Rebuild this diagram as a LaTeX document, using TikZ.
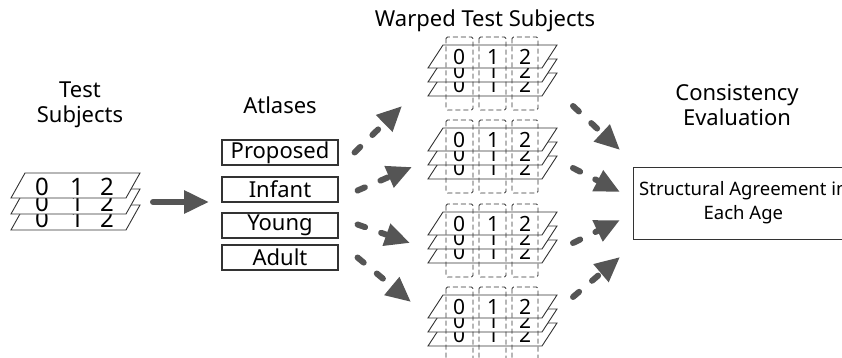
\documentclass[tikz,border=0pt]{standalone}
\usepackage{fontspec}
\setmainfont{Noto Sans}
\usetikzlibrary{arrows.meta}
\definecolor{flowgray}{HTML}{555555}
\definecolor{edgegray}{HTML}{333333}
\begin{document}
\begin{tikzpicture}[x=1pt,y=-1pt,
    title/.style={font=\fontsize{22}{25}\selectfont, align=center, inner sep=0pt},
    atlas/.style={draw=edgegray, line width=1.1pt, minimum width=116pt, minimum height=25pt, inner sep=0pt, font=\fontsize{22}{24}\selectfont},
    plane/.style={draw=edgegray, line width=0.9pt, fill=white},
    digit/.style={inner sep=0pt, font=\fontsize{24}{24}\selectfont},
    wdigit/.style={inner sep=0pt, font=\fontsize{21}{21}\selectfont},
    warpbox/.style={draw=edgegray, dash pattern=on 5pt off 3pt, line width=0.8pt, rounded corners=1.5pt},
    flow/.style={draw=flowgray, line width=6pt, line cap=round, dash pattern=on 8pt off 17pt, -{Triangle[length=25pt,width=22pt]}},
    solidflow/.style={draw=flowgray, line width=6pt, line cap=round, -{Triangle[length=25pt,width=22pt]}},
  ]
  \useasboundingbox (0,0) rectangle (842,358);
  \clip (0,0) rectangle (842,358);
  % headings
  \node[title] (tsubj) at (80,105) {Test\\Subjects};
  \node[title] (atl) at (280,105) {Atlases};
  \node[title] (wts) at (485,21) {Warped Test Subjects};
  \node[title] (cev) at (737,105) {Consistency\\Evaluation};
  % test subjects
  \foreach \k in {2,1,0} {
    \draw[plane] (25,173+16*\k) -- (140,173+16*\k) -- (126,198+16*\k) -- (11,198+16*\k) -- cycle;
    \node[digit] (ts-\k-0) at (42,187+16*\k) {0};
    \node[digit] (ts-\k-1) at (77,187+16*\k) {1};
    \node[digit] (ts-\k-2) at (107,187+16*\k) {2};
  }
  \coordinate (ts-out) at (153,202);
  \coordinate (atl-in) at (209,202);
  \draw[solidflow] (ts-out) -- (atl-in);
  % atlases
  \node[atlas] (prop) at (280,152.5) {Proposed};
  \node[atlas] (inf) at (280,189.5) {Infant};
  \node[atlas] (yng) at (280,225.5) {Young};
  \node[atlas] (adl) at (280,257.5) {Adult};
  % warped test subjects
  \foreach \s/\t in {1/37,2/120,3/204,4/287} {
    \foreach \k in {2,1,0} {
      \draw[plane] (443,\t+8+14*\k) -- (557,\t+8+14*\k) -- (542,\t+31+14*\k) -- (428,\t+31+14*\k) -- cycle;
      \node[wdigit] (w\s-\k-0) at (459,\t+20+14*\k) {0};
      \node[wdigit] (w\s-\k-1) at (493,\t+20+14*\k) {1};
      \node[wdigit] (w\s-\k-2) at (525,\t+20+14*\k) {2};
    }
    \draw[warpbox] (446,\t) rectangle (473,\t+73);
    \draw[warpbox] (479,\t) rectangle (506,\t+73);
    \draw[warpbox] (512,\t) rectangle (538,\t+73);
  }
  \coordinate (in1) at (402,106);
  \coordinate (in2) at (412,167);
  \coordinate (in3) at (410,243);
  \coordinate (in4) at (411,302);
  \draw[flow] ([xshift=16pt]prop.east) -- (in1);
  \draw[flow] ([xshift=19pt,yshift=-1pt]inf.east) -- (in2);
  \draw[flow] ([xshift=19pt,yshift=1pt]yng.east) -- (in3);
  \draw[flow] ([xshift=19pt]adl.east) -- (in4);
  % consistency evaluation
  \node[draw=edgegray, line width=0.8pt, anchor=west, minimum width=220pt, minimum height=72pt,
    align=center, font=\fontsize{18.5}{24}\selectfont, inner sep=0pt] (eval) at (633,203)
    {Structural Agreement in\\Each Age};
  \coordinate (out1) at (573,106);
  \coordinate (out2) at (573,168);
  \coordinate (out3) at (573,243);
  \coordinate (out4) at (573,297);
  \coordinate (ev1) at (620,150);
  \coordinate (ev2) at (620,192);
  \coordinate (ev3) at (620,220);
  \coordinate (ev4) at (620,257);
  \draw[flow] (out1) -- (ev1);
  \draw[flow] (out2) -- (ev2);
  \draw[flow] (out3) -- (ev3);
  \draw[flow] (out4) -- (ev4);
\end{tikzpicture}
\end{document}
